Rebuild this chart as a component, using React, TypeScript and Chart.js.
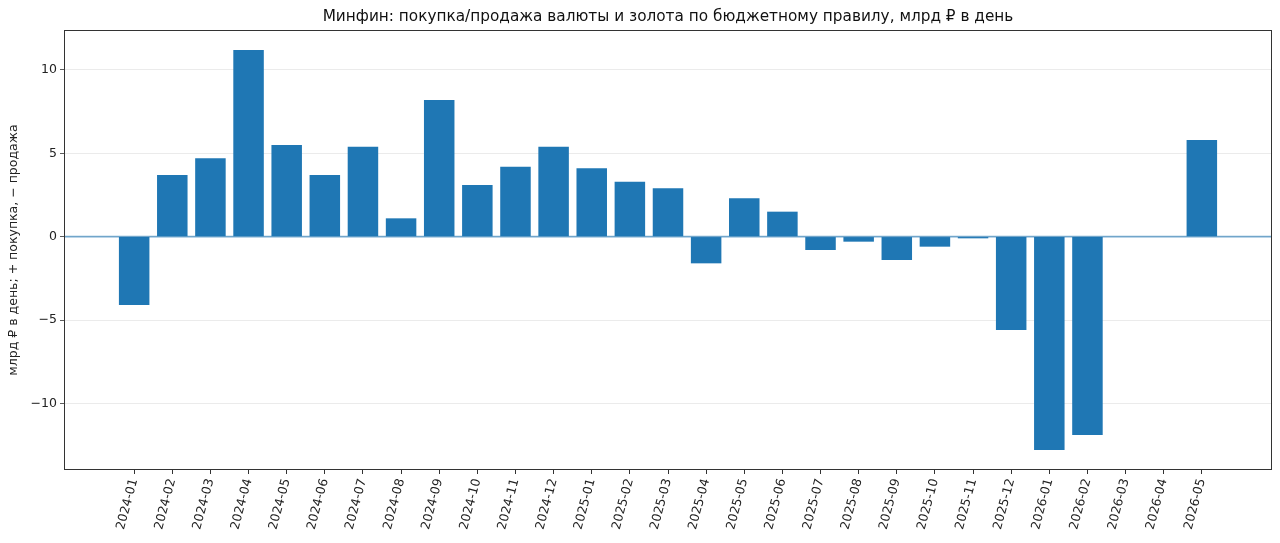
import { useEffect, useRef } from "react"
import { Chart, registerables } from "chart.js"

Chart.register(...registerables)

const months = [
  "2024-01", "2024-02", "2024-03", "2024-04", "2024-05", "2024-06", "2024-07", "2024-08",
  "2024-09", "2024-10", "2024-11", "2024-12", "2025-01", "2025-02", "2025-03", "2025-04",
  "2025-05", "2025-06", "2025-07", "2025-08", "2025-09", "2025-10", "2025-11", "2025-12",
  "2026-01", "2026-02", "2026-03", "2026-04", "2026-05",
]
const values = [
  -4.1, 3.7, 4.7, 11.2, 5.5, 3.7, 5.4, 1.1,
  8.2, 3.1, 4.2, 5.4, 4.1, 3.3, 2.9, -1.6,
  2.3, 1.5, -0.8, -0.3, -1.4, -0.6, -0.1, -5.6,
  -12.8, -11.9, 0, 0, 5.8,
]
const yTicks = [-10, -5, 0, 5, 10]
const title = "Минфин: покупка/продажа валюты и золота по бюджетному правилу, млрд ₽ в день"
const yTitle = "млрд ₽ в день; + покупка, − продажа"

const FONT = "'DejaVu Sans', sans-serif"

// рамка, нулевая линия и заголовок как в matplotlib
const framePlugin = {
  id: "frame",
  afterDatasetsDraw(chart: Chart) {
    const { ctx, chartArea } = chart
    const y0 = chart.scales.y.getPixelForValue(0)
    ctx.save()
    ctx.strokeStyle = "rgba(31, 119, 180, 0.6)"
    ctx.lineWidth = 1.6
    ctx.beginPath()
    ctx.moveTo(chartArea.left, y0)
    ctx.lineTo(chartArea.right, y0)
    ctx.stroke()
    ctx.restore()
  },
  afterDraw(chart: Chart) {
    const { ctx, chartArea } = chart
    ctx.save()
    ctx.strokeStyle = "#333"
    ctx.lineWidth = 1
    ctx.strokeRect(chartArea.left + 0.5, chartArea.top + 0.5, chartArea.width - 1, chartArea.height - 1)
    ctx.fillStyle = "#111"
    ctx.font = `15.3px ${FONT}`
    ctx.textAlign = "center"
    ctx.textBaseline = "middle"
    ctx.fillText(title, (chartArea.left + chartArea.right) / 2, 17)
    ctx.restore()
  },
}

export default function App() {
  const chartRef = useRef<HTMLCanvasElement>(null)
  const chartInstance = useRef<Chart | null>(null)

  useEffect(() => {
    document.body.style.margin = "0"
    if (!chartRef.current) return
    if (chartInstance.current) chartInstance.current.destroy()

    const n = months.length
    const xPad = 0.05 * (n - 1 + 0.8) + 0.4
    const vMin = Math.min(...values)
    const vMax = Math.max(...values)
    const yPad = 0.05 * (vMax - vMin)

    chartInstance.current = new Chart(chartRef.current, {
      type: "bar",
      data: {
        datasets: [
          {
            data: values.map((v, i) => ({ x: i, y: v })),
            backgroundColor: "#1f77b4",
            borderWidth: 0,
            categoryPercentage: 1,
            barPercentage: 0.8,
          },
        ],
      },
      options: {
        responsive: true,
        maintainAspectRatio: false,
        animation: false,
        layout: { padding: { top: 30, right: 8, left: 0, bottom: 0 } },
        plugins: {
          legend: { display: false },
          tooltip: { enabled: false },
          title: { display: false },
        },
        scales: {
          x: {
            type: "linear",
            offset: false,
            min: -xPad,
            max: n - 1 + xPad,
            afterBuildTicks: (scale: any) => {
              scale.ticks = months.map((_, i) => ({ value: i }))
            },
            afterFit: (scale: any) => {
              scale.height = 73
            },
            grid: {
              offset: false,
              drawOnChartArea: false,
              drawTicks: true,
              tickLength: 4,
              tickColor: "#333",
            },
            border: { display: false },
            ticks: {
              autoSkip: false,
              minRotation: 75,
              maxRotation: 75,
              padding: 3,
              color: "#222",
              font: { family: FONT, size: 12.5 },
              callback: (value: any) => months[value as number] ?? "",
            },
          },
          y: {
            min: vMin - yPad,
            max: vMax + yPad,
            afterBuildTicks: (scale: any) => {
              scale.ticks = yTicks.map((v) => ({ value: v }))
            },
            afterFit: (scale: any) => {
              scale.width = 64
            },
            grid: {
              color: "#e6e6e6",
              lineWidth: 0.8,
              tickLength: 4,
              tickColor: "#333",
            },
            border: { display: false },
            ticks: {
              padding: 3,
              color: "#222",
              font: { family: FONT, size: 12.5 },
              callback: (value: any) => String(value).replace("-", "−"),
            },
            title: {
              display: true,
              text: yTitle,
              color: "#222",
              padding: { top: 6, bottom: 0 },
              font: { family: FONT, size: 12.5 },
            },
          },
        },
      },
      plugins: [framePlugin],
    })

    return () => {
      if (chartInstance.current) {
        chartInstance.current.destroy()
        chartInstance.current = null
      }
    }
  }, [])

  return (
    <div style={{ width: 1280, height: 543, background: "#fff" }}>
      <canvas ref={chartRef} />
    </div>
  )
}
